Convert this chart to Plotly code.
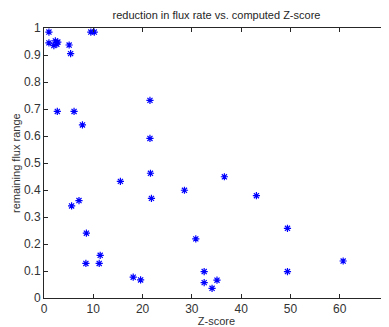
import plotly.graph_objects as go

z_score = [1.0, 9.5, 10.2, 1.0, 2.0, 2.3, 2.6, 2.8, 5.1, 5.4,
           2.7, 6.1, 7.8, 21.5, 21.5, 21.6, 21.8, 15.5,
           5.6, 7.1, 8.6, 8.5, 11.4, 11.2, 18.1, 19.6,
           28.5, 36.6, 43.1, 30.8, 32.5, 32.5, 35.1, 34.1,
           49.4, 60.7, 49.4]
flux_range = [0.985, 0.985, 0.985, 0.945, 0.935, 0.952, 0.94, 0.948, 0.937, 0.905,
              0.691, 0.691, 0.641, 0.732, 0.591, 0.462, 0.369, 0.432,
              0.341, 0.361, 0.24, 0.128, 0.158, 0.128, 0.077, 0.067,
              0.399, 0.449, 0.379, 0.219, 0.098, 0.057, 0.066, 0.036,
              0.258, 0.137, 0.098]

x_ticks = [0, 10, 20, 30, 40, 50, 60, 70]
y_ticks = [0, 0.1, 0.2, 0.3, 0.4, 0.5, 0.6, 0.7, 0.8, 0.9, 1]
y_tick_text = ["0", "0.1", "0.2", "0.3", "0.4", "0.5", "0.6", "0.7", "0.8", "0.9", "1"]

fig = go.Figure(go.Scatter(
    x=z_score, y=flux_range, mode="markers",
    marker=dict(symbol="asterisk-open", size=6, color="#0000ff",
                line=dict(color="#0000ff", width=1.2)),
))

font = "Liberation Sans, Arial, sans-serif"
axis_common = dict(showgrid=False, zeroline=False, showline=True, linecolor="#262626",
                   linewidth=1, mirror="ticks", ticks="inside", ticklen=4,
                   tickcolor="#262626", automargin=False, ticklabeloverflow="allow",
                   tickfont=dict(family=font, size=12, color="#333333"))

# page body has an 8px default margin, so the figure is shrunk by 8px on each axis
fig.update_layout(
    width=381, height=319,
    margin=dict(l=36, r=0, t=20, b=29),
    paper_bgcolor="white", plot_bgcolor="white",
    showlegend=False,
    title=dict(text="reduction in flux rate vs. computed Z-score",
               font=dict(family=font, size=11, color="#262626"),
               x=(36 + 381) / 2 / 381, xanchor="center", y=1 - 7 / 319, yanchor="middle"),
    xaxis=dict(range=[0, 70], tickvals=x_ticks,
               title=dict(text="Z-score", font=dict(family=font, size=11, color="#333333"), standoff=0),
               **axis_common),
    yaxis=dict(range=[0, 1], tickvals=y_ticks, ticktext=y_tick_text, **axis_common),
    annotations=[dict(text="remaining flux range", xref="paper", yref="paper",
                      x=-28 / 345, y=0.5, xanchor="center", yanchor="middle",
                      textangle=-90, showarrow=False,
                      font=dict(family=font, size=11, color="#333333"))],
)

fig.write_html("out.html")
